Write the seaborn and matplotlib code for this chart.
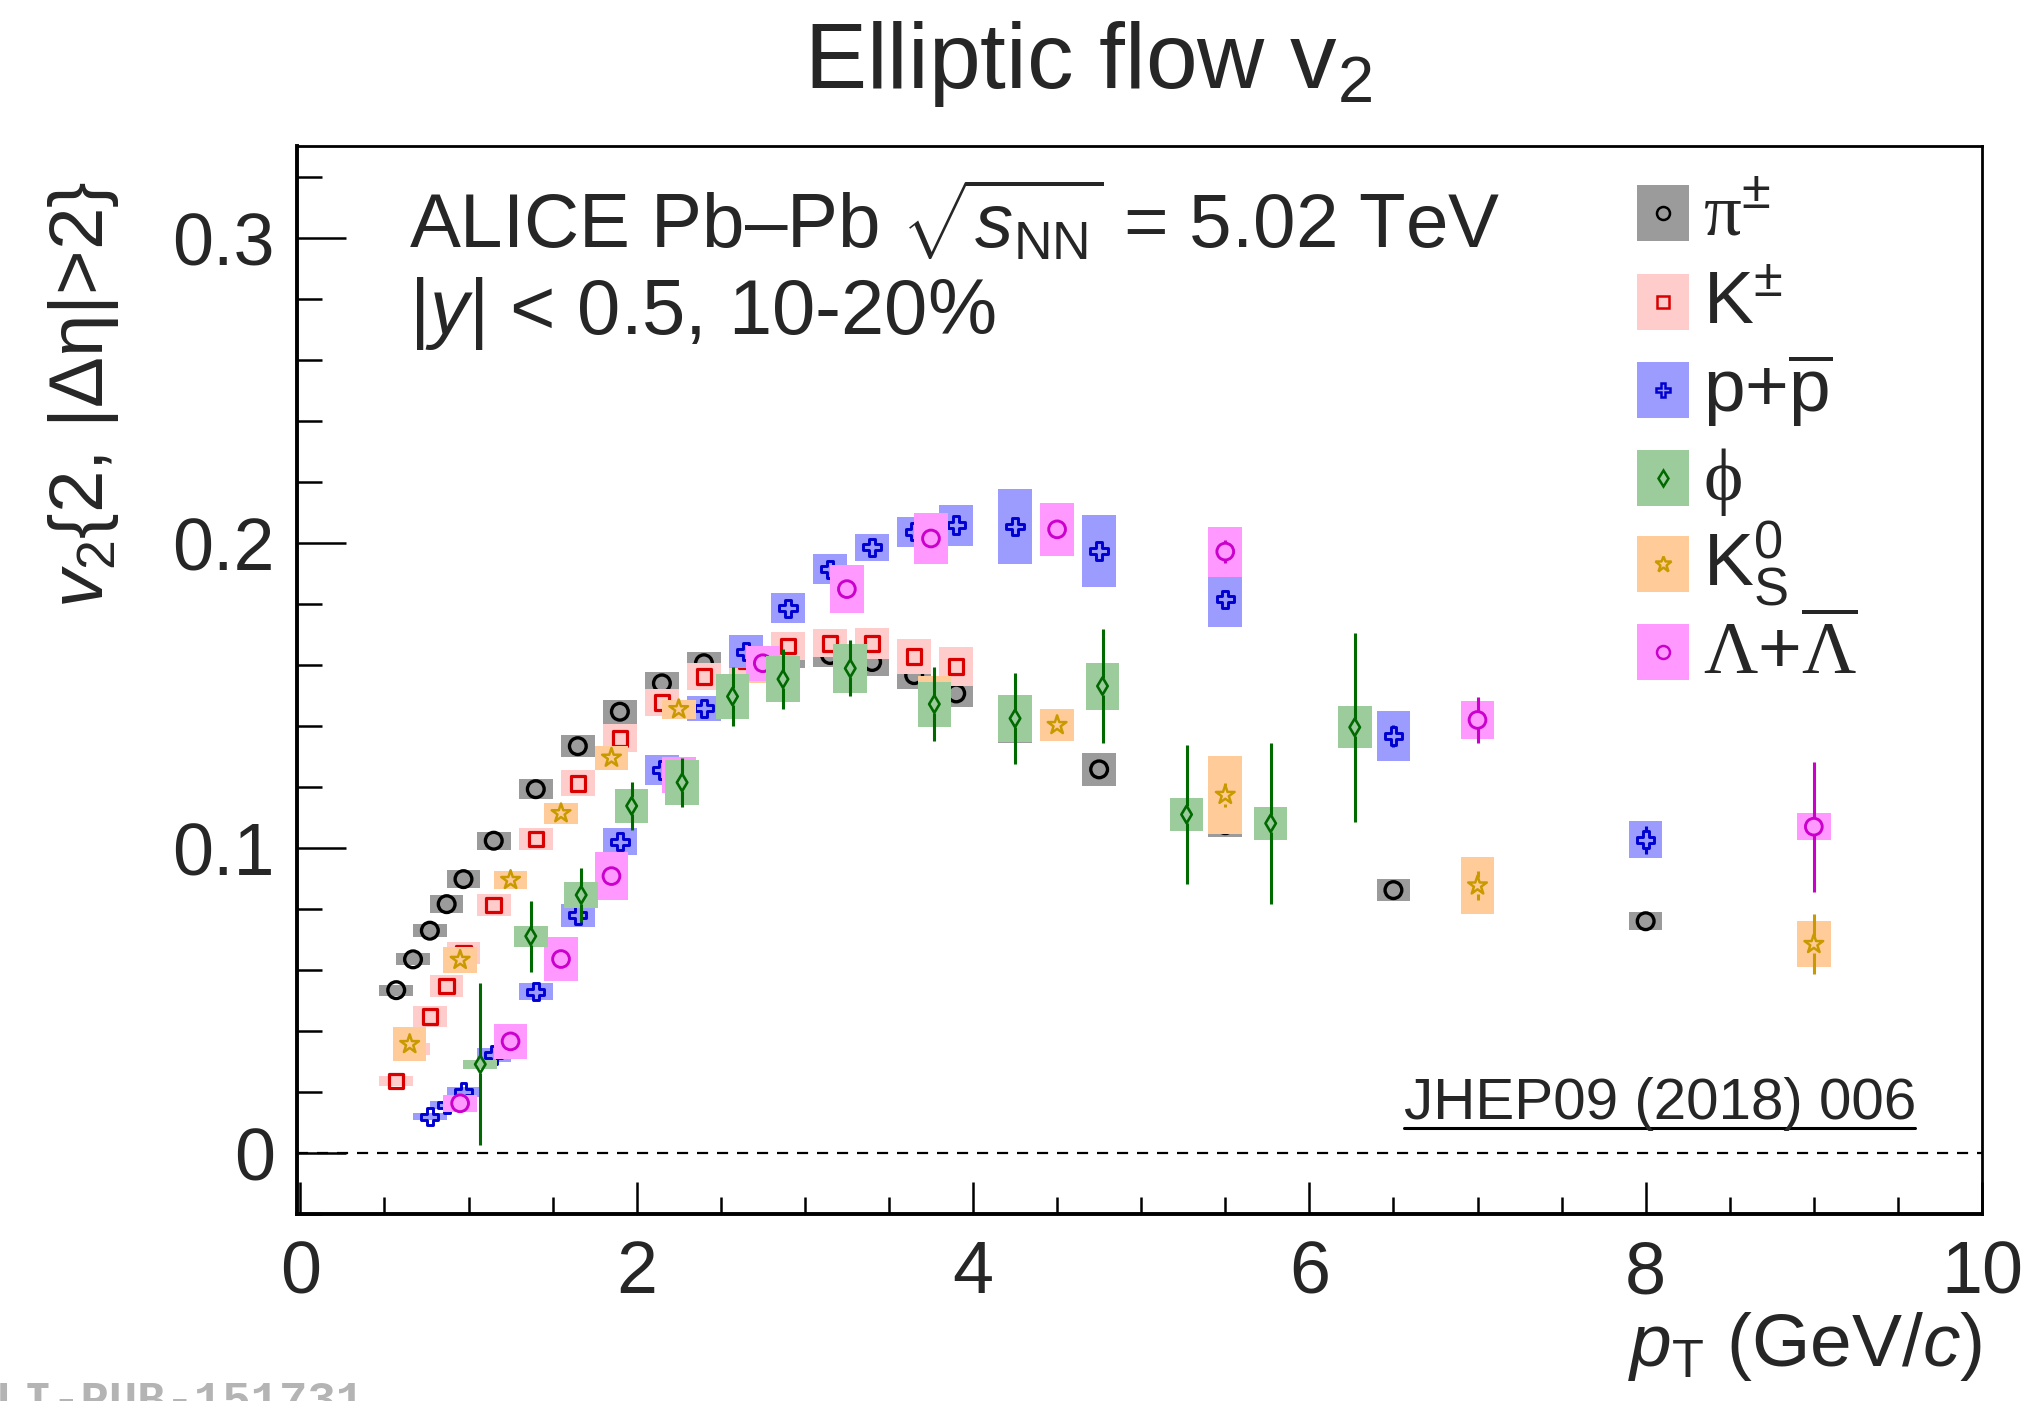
import numpy as np
import matplotlib
matplotlib.use("Agg")
import matplotlib.pyplot as plt
from matplotlib.ticker import MultipleLocator
from matplotlib.patches import Rectangle
import seaborn as sns

# ---------------- data ----------------
pi_pt = [0.57, 0.67, 0.77, 0.87, 0.97, 1.15, 1.4, 1.65, 1.9, 2.15, 2.4, 2.65, 2.9,
         3.15, 3.4, 3.65, 3.9, 4.25, 4.75, 5.5, 6.5, 8.0]
pi_v2 = [0.0534, 0.0635, 0.0729, 0.0816, 0.0898, 0.1024, 0.1193, 0.1334, 0.1447, 0.154,
         0.1606, 0.162, 0.163, 0.1633, 0.161, 0.1567, 0.1507, 0.1394, 0.1258, 0.1075,
         0.0862, 0.076]
pi_sys = [0.0018, 0.002, 0.0022, 0.003, 0.003, 0.003, 0.0033, 0.0037, 0.004, 0.0036,
          0.0036, 0.004, 0.004, 0.004, 0.0045, 0.0045, 0.0045, 0.005, 0.0053, 0.004,
          0.0037, 0.003]
pi_stat = [0.0005] * 22

k_pt = [0.57, 0.67, 0.77, 0.87, 0.97, 1.15, 1.4, 1.65, 1.9, 2.15, 2.4, 2.65, 2.9,
        3.15, 3.4, 3.65, 3.9]
k_v2 = [0.0236, 0.034, 0.0447, 0.0548, 0.0655, 0.0813, 0.1029, 0.1212, 0.136, 0.1477,
        0.1562, 0.1615, 0.1663, 0.1671, 0.1671, 0.1628, 0.1595]
k_sys = [0.0017, 0.002, 0.0035, 0.0036, 0.0036, 0.0037, 0.0036, 0.0043, 0.0046, 0.0043,
         0.0044, 0.005, 0.0045, 0.0046, 0.005, 0.0056, 0.0064]
k_stat = [0.0005] * 17

p_pt = [0.77, 0.87, 0.97, 1.15, 1.4, 1.65, 1.9, 2.15, 2.4, 2.65, 2.9, 3.15, 3.4, 3.65,
        3.9, 4.25, 4.75, 5.5, 6.5, 8.0]
p_v2 = [0.0119, 0.0158, 0.0201, 0.0321, 0.0529, 0.078, 0.1021, 0.1256, 0.1458, 0.1644,
        0.1786, 0.1914, 0.1986, 0.2037, 0.2059, 0.2054, 0.1974, 0.1816, 0.1367, 0.1027]
p_sys = [0.0011, 0.0014, 0.0016, 0.0023, 0.0028, 0.0038, 0.0045, 0.0049, 0.0042, 0.0055,
         0.0049, 0.0049, 0.0045, 0.0049, 0.0067, 0.0122, 0.0119, 0.009, 0.0082, 0.0061]
p_stat = [0.001] * 17 + [0.003, 0.0035, 0.0046]

phi_pt = [1.07, 1.37, 1.67, 1.97, 2.27, 2.57, 2.87, 3.27, 3.77, 4.25, 4.77, 5.27, 5.77, 6.27]
phi_v2 = [0.0291, 0.0711, 0.0846, 0.1138, 0.1215, 0.1497, 0.1554, 0.1589, 0.1472, 0.1425,
          0.1531, 0.111, 0.1081, 0.1396]
phi_stat = [0.0266, 0.0116, 0.009, 0.0078, 0.008, 0.0096, 0.0098, 0.0092, 0.012, 0.015,
            0.0187, 0.0229, 0.0265, 0.031]
phi_sys = [0.0015, 0.0034, 0.0042, 0.0056, 0.0074, 0.0074, 0.0075, 0.0079, 0.0074, 0.0077,
           0.0077, 0.0055, 0.0054, 0.0069]

k0_pt = [0.65, 0.95, 1.25, 1.55, 1.85, 2.25, 2.75, 3.77, 4.5, 5.5, 7.0, 9.0]
k0_v2 = [0.0357, 0.0633, 0.0895, 0.1114, 0.1296, 0.1455, 0.159, 0.151, 0.1403, 0.1174,
         0.0877, 0.0685]
k0_sys = [0.0055, 0.0042, 0.003, 0.0034, 0.004, 0.0032, 0.005, 0.0055, 0.0053, 0.0127,
          0.0093, 0.0075]
k0_stat = [0.001] * 9 + [0.004, 0.0049, 0.0098]

lam_pt = [0.95, 1.25, 1.55, 1.85, 2.25, 2.75, 3.25, 3.75, 4.5, 5.5, 7.0, 9.0]
lam_v2 = [0.0163, 0.0366, 0.0636, 0.0908, 0.124, 0.1606, 0.1849, 0.2015, 0.2045, 0.1972,
          0.142, 0.107]
lam_sys = [0.0027, 0.0058, 0.0072, 0.0079, 0.006, 0.0058, 0.0078, 0.0085, 0.0087, 0.0082,
           0.0061, 0.0045]
lam_stat = [0.001] * 9 + [0.0037, 0.0074, 0.0213]

labels = [r"$\mathbf{\pi}^{\pm}$", r"K$^{\pm}$", r"p+$\overline{\mathrm{p}}$",
          r"$\mathbf{\phi}$", r"K$^{0}_{\mathrm{S}}$",
          r"$\mathbf{\Lambda}$+$\overline{\mathbf{\Lambda}}$"]
x_ticks = [0, 2, 4, 6, 8, 10]
x_ticklabels = ["0", "2", "4", "6", "8", "10"]
y_ticks = [0.0, 0.1, 0.2, 0.3]
y_ticklabels = ["0", "0.1", "0.2", "0.3"]

# ---------------- style ----------------
sns.set_theme(style="ticks")
plt.rcParams["font.family"] = ["Liberation Sans", "DejaVu Sans"]
plt.rcParams["mathtext.fontset"] = "custom"
plt.rcParams["mathtext.rm"] = "Liberation Sans"
plt.rcParams["mathtext.it"] = "Liberation Sans:italic"
plt.rcParams["mathtext.bf"] = "Liberation Serif"
plt.rcParams["mathtext.sf"] = "Liberation Sans"

W, H = 2029, 1401
fig = plt.figure(figsize=(W / 100, H / 100), dpi=100)
ax_l, ax_r, ax_t, ax_b = 297, 1982, 146, 1214
ax = fig.add_axes([ax_l / W, 1 - ax_b / H, (ax_r - ax_l) / W, (ax_b - ax_t) / H])

# legend order: pi, K, p, phi, K0s, Lambda ; drawing order: pi, K, p, K0s, Lambda, phi
species = [
    dict(x=pi_pt, y=pi_v2, sys=pi_sys, stat=pi_stat, marker="o", s=145, lms=11,
         mc="black", bc="#9b9b9b", lw=2.4, gap=0.0028, z=3),
    dict(x=k_pt, y=k_v2, sys=k_sys, stat=k_stat, marker="s", s=110, lms=10,
         mc="#d80000", bc="#ffcccc", lw=2.3, gap=0.0026, z=4),
    dict(x=p_pt, y=p_v2, sys=p_sys, stat=p_stat, marker="P", s=155, lms=12,
         mc="#0000d0", bc="#9c9cff", lw=2.1, gap=0.0028, z=5),
    dict(x=phi_pt, y=phi_v2, sys=phi_sys, stat=phi_stat, marker="d", s=78, lms=9,
         mc="#006a00", bc="#9ccc9c", lw=1.9, gap=0.0028, z=8),
    dict(x=k0_pt, y=k0_v2, sys=k0_sys, stat=k0_stat, marker="*", s=200, lms=14,
         mc="#c99a00", bc="#ffcc99", lw=1.8, gap=0.0028, z=6),
    dict(x=lam_pt, y=lam_v2, sys=lam_sys, stat=lam_stat, marker="o", s=145, lms=11,
         mc="#cc00cc", bc="#ff99ff", lw=2.1, gap=0.0028, z=7),
]

ax.axhline(0, color="black", lw=1.6, ls=(0, (5, 4)), zorder=1)

for sp in species:
    z = sp["z"]
    x = np.asarray(sp["x"]); y = np.asarray(sp["y"])
    sy = np.asarray(sp["sys"]); st = np.asarray(sp["stat"])
    ax.bar(x, 2 * sy, bottom=y - sy, width=0.2, color=sp["bc"], linewidth=0, zorder=z)
    m = st > sp["gap"]
    if m.any():
        ax.vlines(x[m], (y + sp["gap"])[m], (y + st)[m], colors=sp["mc"], lw=2.2, zorder=z)
        ax.vlines(x[m], (y - st)[m], (y - sp["gap"])[m], colors=sp["mc"], lw=2.2, zorder=z)
    sns.scatterplot(x=x, y=y, marker=sp["marker"], s=sp["s"], facecolors="none",
                    edgecolor=sp["mc"], linewidth=sp["lw"], ax=ax, zorder=z, legend=False)

# axes
ax.set_xlim(-0.02, 10.0)
ax.set_ylim(-0.02, 0.3302)
ax.set_xticks(x_ticks)
ax.set_xticklabels(x_ticklabels)
ax.set_yticks(y_ticks)
ax.set_yticklabels(y_ticklabels)
ax.xaxis.set_minor_locator(MultipleLocator(0.5))
ax.yaxis.set_minor_locator(MultipleLocator(0.02))
ax.tick_params(axis="x", which="major", direction="in", length=23, width=1.8,
               labelsize=53, pad=18, top=False, color="black")
ax.tick_params(axis="x", which="minor", direction="in", length=12, width=1.8,
               top=False, bottom=True, color="black")
ax.tick_params(axis="y", which="major", direction="in", length=35, width=1.8,
               labelsize=53, pad=16, right=False, color="black")
ax.tick_params(axis="y", which="minor", direction="in", length=18, width=1.8,
               right=False, left=True, color="black")
for side in ["left", "bottom"]:
    ax.spines[side].set_linewidth(2.8)
for side in ["top", "right"]:
    ax.spines[side].set_linewidth(2.0)
for sp_ in ax.spines.values():
    sp_.set_color("black")
ax.set_xlabel("")
ax.set_ylabel("")

# texts
fig.text(0.536, 1 - 88 / H, r"Elliptic flow v$_{2}$", ha="center", va="baseline", fontsize=67)
ax.text(0.0665, 0.9045, "ALICE Pb\u2013Pb $\\sqrt{s_{\\mathrm{NN}}}$ = 5.02 TeV",
        transform=ax.transAxes, fontsize=55, va="baseline", ha="left")
ax.text(0.0665, 0.824, r"|$y$| < 0.5, 10-20%", transform=ax.transAxes, fontsize=56,
        va="baseline", ha="left")
ax.text(0.657, 0.089, "JHEP09 (2018) 006", transform=ax.transAxes, fontsize=42,
        va="baseline", ha="left")
ax.plot([0.657, 0.960], [0.0805, 0.0805], transform=ax.transAxes, color="black", lw=2.2,
        clip_on=False)

fig.text(ax_r / W, 1 - 1366 / H, r"$p_{\mathrm{T}}$ (GeV/$c$)", ha="right", va="baseline",
         fontsize=54)
fig.text(84 / W, 1 - 395 / H, r"$v_{2}${2, |$\Delta\mathrm{\eta}$|>2}", rotation=90,
         ha="center", va="center", fontsize=55)
fig.text(-33 / W, 1 - 1380 / H, "ALI-PUB-151731", family="Liberation Mono", weight="bold",
         color="#b4b4b4", fontsize=34, va="top", ha="left")

# legend (manual, ROOT-like)
legend_order = [0, 1, 2, 3, 4, 5]
rows = [0.9368, 0.8544, 0.772, 0.6896, 0.6086, 0.5262]
bw, bh = 52 / (ax_r - ax_l), 56 / (ax_b - ax_t)
bx = 0.7953
for idx, yc, lab in zip(legend_order, rows, labels):
    sp = species[idx]
    ax.add_patch(Rectangle((bx, yc - bh / 2), bw, bh, transform=ax.transAxes,
                           facecolor=sp["bc"], edgecolor="none", zorder=10, clip_on=False))
    ax.plot([bx + bw / 2], [yc], transform=ax.transAxes, marker=sp["marker"],
            ms=sp["lms"] * 0.85, mfc="none", mec=sp["mc"], mew=1.8, zorder=11, clip_on=False)
    ax.text(0.8344, yc - 0.0206, lab, transform=ax.transAxes, fontsize=54,
            va="baseline", ha="left", zorder=11)

fig.savefig("out.png", dpi=100)
